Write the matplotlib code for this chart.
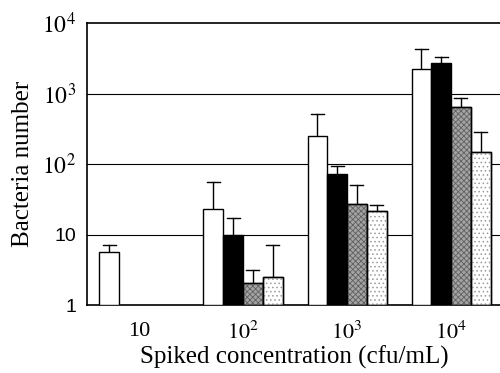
import numpy as np
import matplotlib
matplotlib.use('Agg')
import matplotlib.pyplot as plt

plt.rcParams['hatch.linewidth'] = 0.6
plt.rcParams['mathtext.fontset'] = 'stix'

# data (log axis, 0 = no bar)
groups = ['10', r'$10^2$', r'$10^3$', r'$10^4$']
white = [5.6, 23, 250, 2230]
white_err = [7.1, 55, 510, 4270]
black = [0, 10, 72, 2700]
black_err = [0, 17, 93, 3300]
gray = [0, 2.05, 27, 640]
gray_err = [0, 3.1, 50, 860]
light = [0, 2.5, 21.5, 148]
light_err = [0, 7.1, 26, 285]

fig = plt.figure(figsize=(5, 3.73), dpi=100)
ax = fig.add_axes([0.174, 0.1823, 0.83, 0.756])

x = np.arange(len(groups))
w = 0.19
offsets = [-1.5 * w, -0.5 * w, 0.5 * w, 1.5 * w]
series = [(white, white_err, 'white', None, 'black'),
          (black, black_err, 'black', None, 'black'),
          (gray, gray_err, '#a4a4a4', 'xxxxxx', '#606060'),
          (light, light_err, 'white', '....', '#9a9a9a')]

for off, (vals, errs, fc, hatch, hc) in zip(offsets, series):
    for xi, v, e in zip(x, vals, errs):
        if v <= 0:
            continue
        ax.bar(xi + off, v - 1, bottom=1, width=w, facecolor=fc,
               edgecolor='black', linewidth=1.0, zorder=3)
        if hatch:
            ax.bar(xi + off, v - 1, bottom=1, width=w, facecolor='none',
                   edgecolor=hc, hatch=hatch, linewidth=0, zorder=3)
            ax.bar(xi + off, v - 1, bottom=1, width=w, facecolor='none',
                   edgecolor='black', linewidth=1.0, zorder=3)
        ax.plot([xi + off, xi + off], [v, e], color='black', lw=1.0, zorder=2)
        ax.plot([xi + off - w * 0.33, xi + off + w * 0.33], [e, e],
                color='black', lw=1.0, zorder=2)

ax.set_yscale('log')
ax.set_ylim(1, 1e4)
ax.set_xlim(-0.5, 3.49)

for yv in [10, 100, 1000]:
    ax.axhline(yv, color='black', lw=0.8, zorder=1)

ax.spines['right'].set_visible(False)
ax.spines['top'].set_linewidth(1.2)
ax.spines['left'].set_linewidth(1.2)
ax.spines['bottom'].set_linewidth(1.2)

ax.set_yticks([1, 10, 100, 1000, 10000])
ax.set_yticklabels(['1', '10', r'$10^2$', r'$10^3$', r'$10^4$'])
ax.yaxis.set_minor_locator(matplotlib.ticker.NullLocator())
ax.tick_params(axis='y', length=0, pad=8, labelsize=17)
for lab in ax.get_yticklabels():
    if lab.get_text() in ('1', '10'):
        lab.set_family('Liberation Sans')
        lab.set_fontsize(14)
    else:
        lab.set_family('Liberation Serif')

ax.set_xticks(x)
ax.set_xticklabels(groups, family='Liberation Serif', fontsize=16)
ax.tick_params(axis='x', length=0, pad=12)

ax.set_ylabel('Bacteria number', family='Liberation Serif', fontsize=18, labelpad=6)
ax.set_xlabel('Spiked concentration (cfu/mL)', family='Liberation Serif',
              fontsize=18, labelpad=1)

fig.savefig('out.png', dpi=100)
